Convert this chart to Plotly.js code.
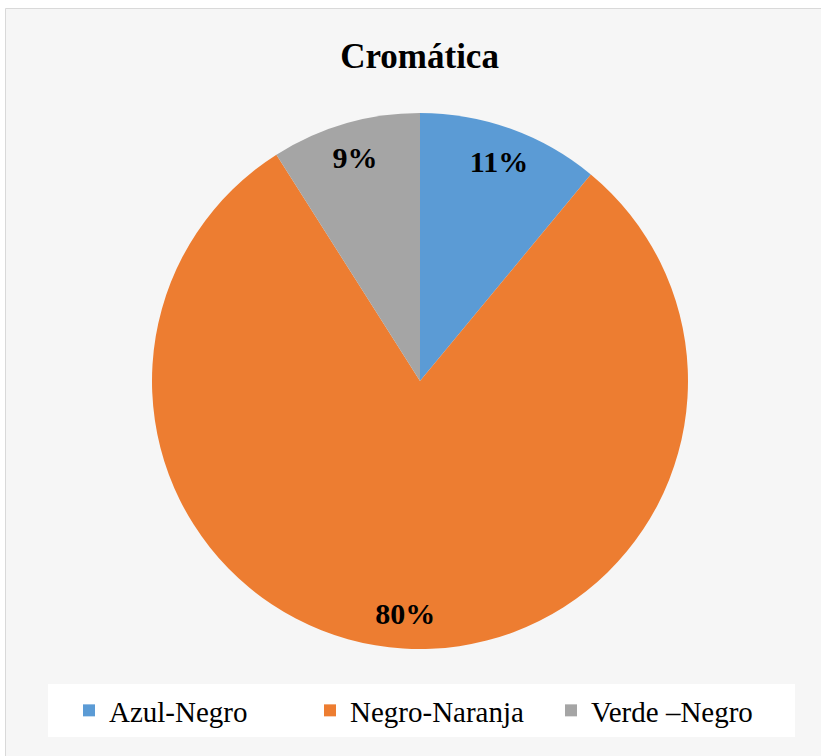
<!DOCTYPE html>
<html>
<head>
<meta charset="utf-8">
<script src="https://cdn.plot.ly/plotly-3.0.1.min.js"></script>
<style>
  html, body { margin: 0; padding: 0; background: #ffffff; }
  #chart { width: 821px; height: 756px; }
</style>
</head>
<body>
<div id="chart"></div>
<script>
const categories = ['Azul-Negro', 'Negro-Naranja', 'Verde –Negro'];
const values = [11, 80, 9];
const colors = ['#5B9BD5', '#ED7D31', '#A5A5A5'];
const chartTitle = 'Cromática';

const serif = '"Liberation Serif", "Times New Roman", Times, serif';
const W = 821, H = 756;
const px = v => v / W;          // x pixel -> paper
const py = v => (H - v) / H;    // y pixel -> paper
const pieDomain = { x: [px(152), px(688)], y: [py(649), py(113)] };

const pieTrace = {
  type: 'pie',
  labels: categories,
  values: values,
  sort: false,
  direction: 'clockwise',
  rotation: 0,
  marker: { colors: colors, line: { width: 0 } },
  textinfo: 'none',
  hoverinfo: 'label+percent',
  showlegend: true,
  domain: pieDomain
};

const labelTrace = {
  type: 'pie',
  labels: categories,
  values: values,
  sort: false,
  direction: 'clockwise',
  rotation: 0,
  hole: 0.74,
  marker: { colors: ['rgba(0,0,0,0)', 'rgba(0,0,0,0)', 'rgba(0,0,0,0)'], line: { width: 0 } },
  textinfo: 'percent',
  texttemplate: '%{percent:.0%}',
  textposition: 'inside',
  insidetextorientation: 'horizontal',
  textfont: { family: serif, size: 30, color: '#000000', weight: 'bold' },
  hoverinfo: 'skip',
  showlegend: false,
  domain: pieDomain
};

const layout = {
  width: W,
  height: H,
  margin: { l: 0, r: 0, t: 0, b: 0, autoexpand: false },
  paper_bgcolor: '#ffffff',
  font: { family: serif, color: '#000000' },
  title: {
    text: '<b>' + chartTitle + '</b>',
    font: { family: serif, size: 35, color: '#000000' },
    x: 0.511, xanchor: 'center',
    y: 1 - 56 / H, yanchor: 'middle', yref: 'container'
  },
  showlegend: true,
  legend: {
    orientation: 'h',
    x: px(69), xanchor: 'left',
    y: py(685), yanchor: 'top',
    bgcolor: 'rgba(0,0,0,0)',
    borderwidth: 0,
    font: { family: serif, size: 29, color: '#000000' },
    itemwidth: 30,
    entrywidth: 196,
    entrywidthmode: 'pixels',
    traceorder: 'normal'
  },
  shapes: [
    {
      type: 'rect', xref: 'paper', yref: 'paper', layer: 'below',
      x0: px(5.5), x1: px(830),
      y0: py(770), y1: py(8.5),
      fillcolor: '#f6f6f6',
      line: { color: '#d9d9d9', width: 1 }
    },
    {
      type: 'rect', xref: 'paper', yref: 'paper', layer: 'below',
      x0: px(48), x1: px(795),
      y0: py(737), y1: py(684),
      fillcolor: '#ffffff',
      line: { width: 0 }
    }
  ]
};

Plotly.newPlot('chart', [pieTrace, labelTrace], layout, { displayModeBar: false, staticPlot: true });
</script>
</body>
</html>
